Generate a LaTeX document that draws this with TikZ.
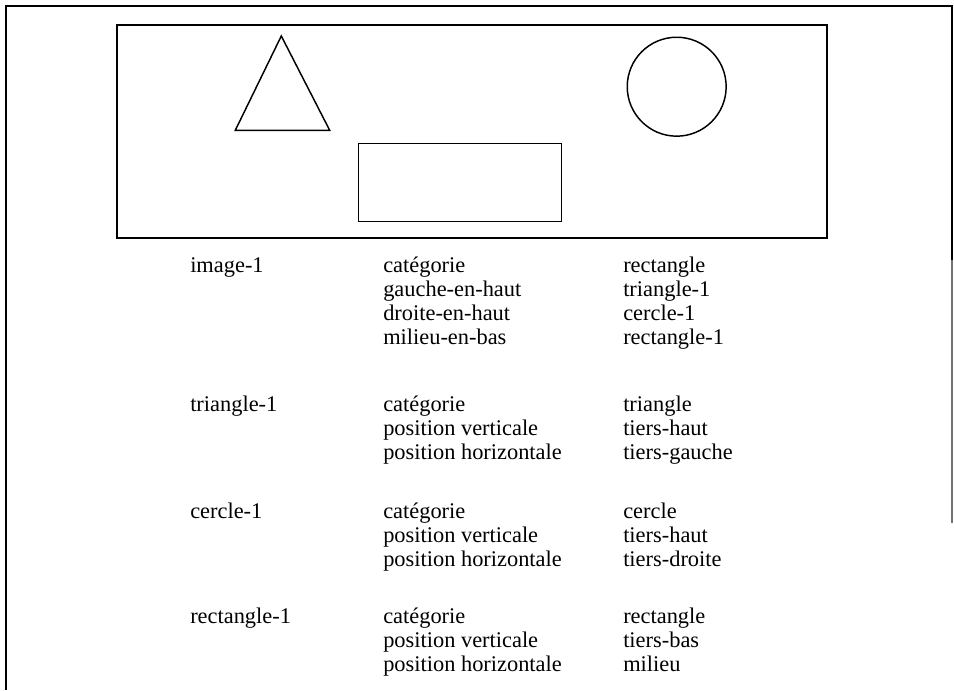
\documentclass[tikz,border=0pt]{standalone}
\usepackage{fontspec}
\setmainfont{Liberation Serif}
\tikzset{
  txt/.style={anchor=base west, inner sep=0pt, font=\fontsize{16.8}{19}\selectfont},
  figline/.style={line width=1.1pt, black}
}
\begin{document}
\begin{tikzpicture}[x=0.75pt,y=-0.75pt]
\useasboundingbox (0,0) rectangle (954,690);

% cadre exterieur (ouvert en bas)
\draw[line width=1.6pt] (6,690) -- (6,6) -- (952,6) -- (952,260);
\draw[line width=0.8pt, black!55!white] (952,260) -- (952,523);

% image
\draw[line width=1.2pt] (117,25) rectangle (827,238);
\draw[figline] (281.3,36) -- (235.3,130.3) -- (329.7,130.3) -- cycle;
\draw[figline] (676.7,86.7) circle[radius=37.1pt];
\draw[figline] (358.7,143.3) rectangle (561.7,221.7);

% image-1
\node(img) at (190,272) [txt] {image-1};
\node(imgA) at (383,272) [txt] {catégorie};
\node(imgB) at (383,296) [txt] {gauche-en-haut};
\node(imgC) at (383,320) [txt] {droite-en-haut};
\node(imgD) at (383,344) [txt] {milieu-en-bas};
\node(imgAv) at (623,272) [txt] {rectangle};
\node(imgBv) at (623,296) [txt] {triangle-1};
\node(imgCv) at (623,320) [txt] {cercle-1};
\node(imgDv) at (623,344) [txt] {rectangle-1};

% triangle-1
\node(tri) at (190,411) [txt] {triangle-1};
\node(triA) at (383,411) [txt] {catégorie};
\node(triB) at (383,435) [txt] {position verticale};
\node(triC) at (383,459) [txt] {position horizontale};
\node(triAv) at (623,411) [txt] {triangle};
\node(triBv) at (623,435) [txt] {tiers-haut};
\node(triCv) at (623,459) [txt] {tiers-gauche};

% cercle-1
\node(cer) at (190,518) [txt] {cercle-1};
\node(cerA) at (383,518) [txt] {catégorie};
\node(cerB) at (383,542) [txt] {position verticale};
\node(cerC) at (383,566) [txt] {position horizontale};
\node(cerAv) at (623,518) [txt] {cercle};
\node(cerBv) at (623,542) [txt] {tiers-haut};
\node(cerCv) at (623,566) [txt] {tiers-droite};

% rectangle-1
\node(rec) at (190,623) [txt] {rectangle-1};
\node(recA) at (383,623) [txt] {catégorie};
\node(recB) at (383,647) [txt] {position verticale};
\node(recC) at (383,671) [txt] {position horizontale};
\node(recAv) at (623,623) [txt] {rectangle};
\node(recBv) at (623,647) [txt] {tiers-bas};
\node(recCv) at (623,671) [txt] {milieu};

\end{tikzpicture}
\end{document}
